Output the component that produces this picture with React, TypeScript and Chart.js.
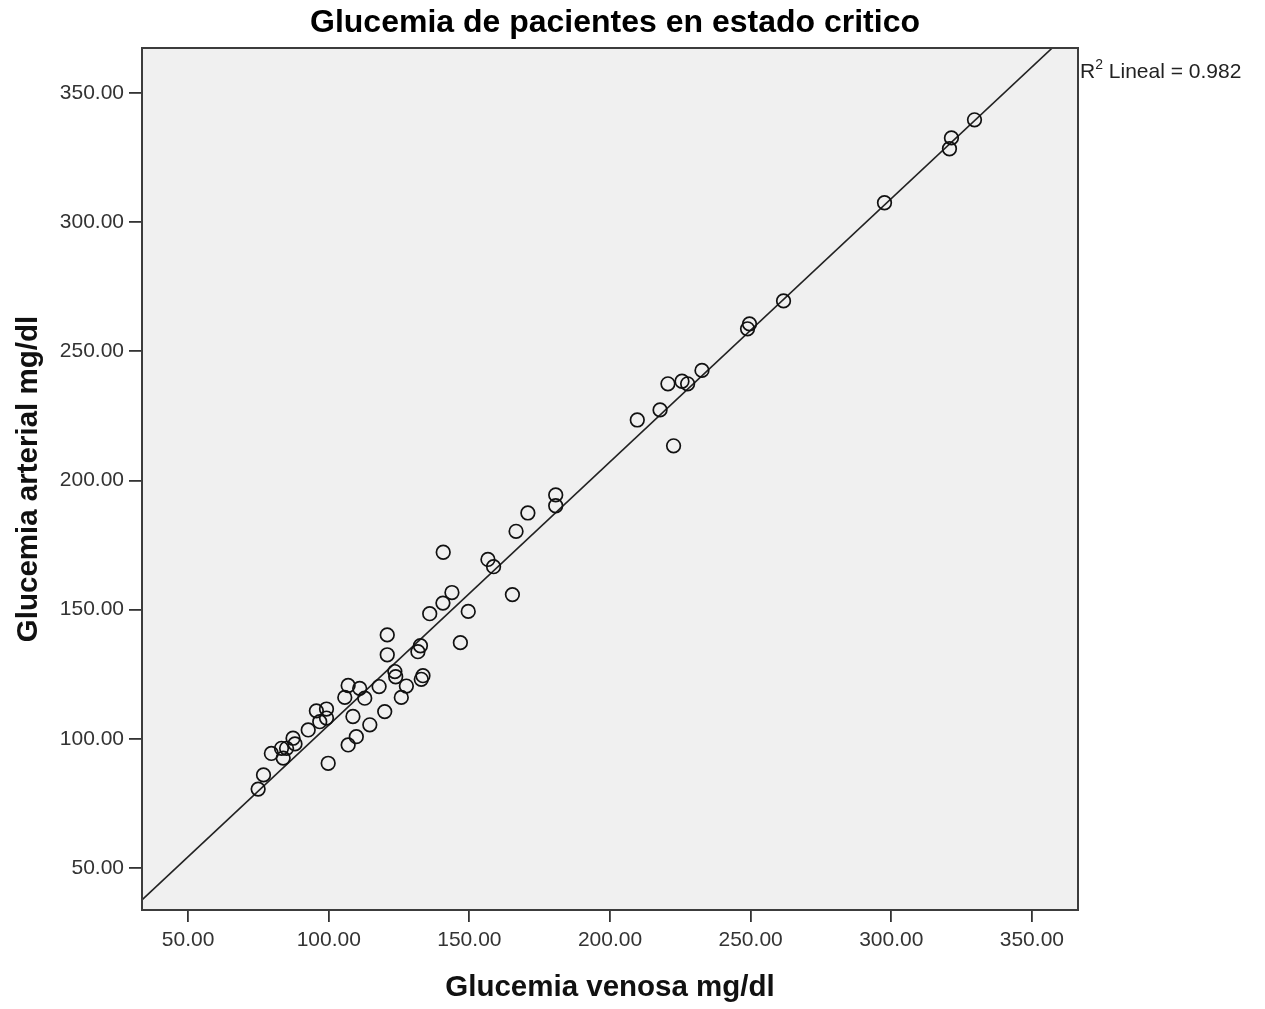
import React, { useEffect, useRef } from "react";
import { Chart, registerables } from "chart.js";

Chart.register(...registerables);

// Glucemia venosa (x) and arterial (y), mg/dl
const venosa = [
  74.9, 76.8, 79.6, 83.2, 85.0, 83.8, 87.3, 88.0, 92.7, 95.6,
  99.2, 99.2, 96.8, 99.8, 106.9, 105.7, 111.0, 112.8, 108.6, 106.9,
  109.8, 114.6, 117.9, 119.9, 123.5, 123.8, 127.6, 125.8, 133.5, 132.9,
  120.8, 120.8, 132.6, 131.7, 135.9, 140.6, 143.8, 140.7, 146.8, 149.6,
  156.6, 158.6, 165.3, 166.6, 170.8, 180.7, 180.7, 209.7, 217.8, 220.6,
  222.6, 225.6, 227.6, 232.7, 248.9, 249.6, 261.7, 297.6, 320.7, 321.4,
  329.6,
];
const arterial = [
  80.5, 86.0, 94.3, 96.3, 96.3, 92.5, 100.2, 98.0, 103.4, 110.8,
  111.5, 108.0, 106.6, 90.5, 120.6, 116.0, 119.5, 115.7, 108.6, 97.6,
  100.8, 105.4, 120.2, 110.5, 126.0, 124.0, 120.4, 116.0, 124.4, 123.0,
  140.2, 132.5, 136.0, 133.7, 148.4, 152.5, 156.6, 172.2, 137.2, 149.3,
  169.4, 166.6, 155.8, 180.3, 187.4, 194.4, 190.2, 223.4, 227.3, 237.4,
  213.4, 238.4, 237.4, 242.6, 258.7, 260.6, 269.5, 307.5, 328.4, 332.6,
  339.6,
];

const tickValues = [50, 100, 150, 200, 250, 300, 350];
const xRange = [33.6, 366.4];
const yRange = [33.7, 367.4];

// Linear fit shown on the chart
const fitIntercept = 3.4;
const fitSlope = 1.019;
const r2Value = "0.982";

const titleText = "Glucemia de pacientes en estado critico";
const xTitle = "Glucemia venosa mg/dl";
const yTitle = "Glucemia arterial mg/dl";

const FONT = "'Liberation Sans', Arial, sans-serif";

export default function App() {
  const ref = useRef<HTMLCanvasElement | null>(null);

  useEffect(() => {
    if (!ref.current) return;
    const points = venosa.map((v, i) => ({ x: v, y: arterial[i] }));
    const fitLine = xRange.map((x) => ({ x, y: fitIntercept + fitSlope * x }));

    const framePlugin = {
      id: "spssFrame",
      beforeDraw(chart: any) {
        const { ctx, chartArea: a } = chart;
        ctx.save();
        ctx.fillStyle = "#ffffff";
        ctx.fillRect(0, 0, chart.width, chart.height);
        ctx.fillStyle = "#f0f0f0";
        ctx.fillRect(a.left, a.top, a.right - a.left, a.bottom - a.top);
        ctx.restore();
      },
      afterDraw(chart: any) {
        const { ctx, chartArea: a } = chart;
        ctx.save();
        ctx.strokeStyle = "#3c3c3c";
        ctx.lineWidth = 2;
        ctx.strokeRect(a.left, a.top, a.right - a.left, a.bottom - a.top);

        ctx.fillStyle = "#000";
        ctx.textAlign = "center";
        ctx.textBaseline = "alphabetic";
        ctx.font = `bold 32px ${FONT}`;
        ctx.fillText(titleText, 615, 32);

        ctx.textAlign = "left";
        ctx.fillStyle = "#222";
        let x = a.right + 2;
        const base = 78;
        ctx.font = `21px ${FONT}`;
        ctx.fillText("R", x, base);
        x += ctx.measureText("R").width;
        ctx.font = `14px ${FONT}`;
        ctx.fillText("2", x, base - 9);
        x += ctx.measureText("2").width;
        ctx.font = `21px ${FONT}`;
        ctx.fillText(" Lineal = " + r2Value, x, base);
        ctx.restore();
      },
    };

    const tickFmt = (v: any) => Number(v).toFixed(2);

    const chart = new Chart(ref.current, {
      type: "scatter",
      data: {
        datasets: [
          {
            type: "scatter",
            data: points,
            pointStyle: "circle",
            pointRadius: 6.8,
            pointBorderWidth: 1.7,
            pointBorderColor: "#111",
            pointBackgroundColor: "rgba(0,0,0,0)",
            borderColor: "#111",
            backgroundColor: "rgba(0,0,0,0)",
            order: 1,
          } as any,
          {
            type: "line",
            data: fitLine,
            borderColor: "#222",
            borderWidth: 1.6,
            pointRadius: 0,
            fill: false,
            tension: 0,
            order: 2,
          } as any,
        ],
      },
      options: {
        animation: false,
        responsive: false,
        events: [],
        layout: { padding: { top: 48, right: 187, left: 0, bottom: 0 } },
        plugins: {
          legend: { display: false },
          tooltip: { enabled: false },
          title: { display: false },
        },
        scales: {
          x: {
            type: "linear",
            position: "bottom",
            min: xRange[0],
            max: xRange[1],
            afterBuildTicks: (s: any) => {
              s.ticks = tickValues.map((v) => ({ value: v }));
            },
            afterFit: (s: any) => {
              s.height = 99;
            },
            ticks: {
              callback: tickFmt,
              font: { family: FONT, size: 21 },
              color: "#333",
              padding: 6,
              maxRotation: 0,
              autoSkip: false,
            },
            grid: {
              drawOnChartArea: false,
              drawTicks: true,
              tickLength: 12,
              color: "#333",
              lineWidth: 1.8,
            },
            border: { display: false },
            title: {
              display: true,
              text: xTitle,
              font: { family: FONT, size: 29.5, weight: "bold" },
              color: "#111",
              padding: { top: 0, bottom: 3 },
            },
          },
          y: {
            type: "linear",
            position: "left",
            min: yRange[0],
            max: yRange[1],
            afterBuildTicks: (s: any) => {
              s.ticks = tickValues.map((v) => ({ value: v }));
            },
            afterFit: (s: any) => {
              s.width = 142;
            },
            ticks: {
              callback: tickFmt,
              font: { family: FONT, size: 21 },
              color: "#333",
              padding: 5,
              autoSkip: false,
            },
            grid: {
              drawOnChartArea: false,
              drawTicks: true,
              tickLength: 13,
              color: "#333",
              lineWidth: 1.8,
            },
            border: { display: false },
            title: {
              display: true,
              text: yTitle,
              font: { family: FONT, size: 29.5, weight: "bold" },
              color: "#111",
              padding: { top: 11, bottom: 0 },
            },
          },
        },
      } as any,
      plugins: [framePlugin],
    });
    return () => chart.destroy();
  }, []);

  return (
    <div style={{ position: "fixed", left: 0, top: 0, width: 1265, height: 1009, background: "#fff" }}>
      <canvas ref={ref} width={1265} height={1009} style={{ display: "block" }} />
    </div>
  );
}
